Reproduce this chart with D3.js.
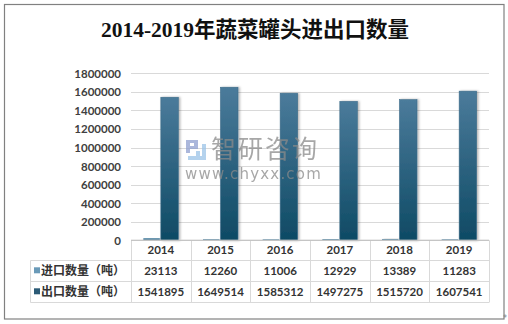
<!DOCTYPE html>
<html>
<head>
<meta charset="utf-8">
<script src="https://cdn.jsdelivr.net/npm/d3@7"></script>
<style>
  html, body { margin: 0; padding: 0; background: #fff; }
  svg { display: block; }
</style>
</head>
<body>
<svg id="chart" width="508" height="324"></svg>
<script>
// Canned vegetables: imports and exports by year (tonnes)
const years = ["2014", "2015", "2016", "2017", "2018", "2019"];
const importQty = [23113, 12260, 11006, 12929, 13389, 11283];
const exportQty = [1541895, 1649514, 1585312, 1497275, 1515720, 1607541];
const seriesNames = ["进口数量（吨）", "出口数量（吨）"];
const yTicks = [0, 200000, 400000, 600000, 800000, 1000000, 1200000, 1400000, 1600000, 1800000];
const titleText = "2014-2019年蔬菜罐头进出口数量";

const svg = d3.select("#chart");
const plot = { left: 131, right: 489, top: 73.3, bottom: 240.3 };
const numFont = "Lato, 'Noto Sans', sans-serif";

// Outer frame
svg.append("rect")
  .attr("x", 4.5).attr("y", 4.5).attr("width", 499.5).attr("height", 314.5)
  .attr("fill", "#fff").attr("stroke", "#808080").attr("stroke-width", 1.2);

// Title
svg.append("text")
  .attr("x", 255).attr("y", 37)
  .attr("text-anchor", "middle")
  .attr("font-family", "'Liberation Serif', 'Noto Sans CJK SC', serif")
  .attr("font-size", 21.5).attr("font-weight", "bold")
  .attr("fill", "#111")
  .text(titleText);

// Scales
const x = d3.scaleBand().domain(years).range([plot.left, plot.right]).paddingInner(0).paddingOuter(0);
const y = d3.scaleLinear().domain([0, 1800000]).range([plot.bottom, plot.top]);
const barW = 17.5;

// Gridlines
svg.append("g")
  .selectAll("line").data(yTicks.filter(d => d > 0)).join("line")
  .attr("x1", plot.left).attr("x2", plot.right)
  .attr("y1", d => Math.round(y(d)) + 0.5).attr("y2", d => Math.round(y(d)) + 0.5)
  .attr("stroke", "#d9d9d9").attr("stroke-width", 1);

// Y axis labels
const yAxis = d3.axisLeft(y).tickValues(yTicks).tickSize(0).tickPadding(0).tickFormat(d3.format("d"));
const gy = svg.append("g").attr("transform", `translate(121,0)`).call(yAxis);
gy.select(".domain").remove();
gy.selectAll("text")
  .attr("font-family", numFont).attr("font-size", 11.5).attr("font-weight", "bold")
  .attr("fill", "#404040").attr("dy", "0.35em");

// Gradients for bars
const defs = svg.append("defs");
const gExp = defs.append("linearGradient").attr("id", "gExp").attr("x1", 0).attr("y1", 0).attr("x2", 0).attr("y2", 1);
gExp.append("stop").attr("offset", "0%").attr("stop-color", "#4b7b9b");
gExp.append("stop").attr("offset", "100%").attr("stop-color", "#0e4a64");
const gImp = defs.append("linearGradient").attr("id", "gImp").attr("x1", 0).attr("y1", 0).attr("x2", 0).attr("y2", 1);
gImp.append("stop").attr("offset", "0%").attr("stop-color", "#5d90ae");
gImp.append("stop").attr("offset", "100%").attr("stop-color", "#3c7190");
const shadow = defs.append("filter").attr("id", "shadow").attr("x", "-30%").attr("y", "-5%").attr("width", "160%").attr("height", "110%");
shadow.append("feDropShadow").attr("dx", 1.5).attr("dy", 0).attr("stdDeviation", 1).attr("flood-color", "#000").attr("flood-opacity", 0.3);

const center = d => x(d) + x.bandwidth() / 2;

// Import bars
svg.append("g").selectAll("rect").data(years).join("rect")
  .attr("x", d => center(d) - barW)
  .attr("y", (d, i) => y(importQty[i]))
  .attr("width", barW - 1)
  .attr("height", (d, i) => plot.bottom - y(importQty[i]))
  .attr("fill", "url(#gImp)")
  .attr("filter", "url(#shadow)");

// Export bars
svg.append("g").selectAll("rect").data(years).join("rect")
  .attr("x", d => center(d))
  .attr("y", (d, i) => y(exportQty[i]))
  .attr("width", barW)
  .attr("height", (d, i) => plot.bottom - y(exportQty[i]))
  .attr("fill", "url(#gExp)")
  .attr("stroke", "#3d6c8a").attr("stroke-width", 0.6)
  .attr("filter", "url(#shadow)");

// Watermark
const wm = svg.append("g").attr("opacity", 0.75);
const logo = wm.append("g").attr("transform", "translate(186,140)");
logo.append("path").attr("d", "M0,0 H12 V9 H4 V13 H0 Z M4,3 V6 H8 V3 Z").attr("fill", "#8fa0cf");
logo.append("path").attr("d", "M10,11 H14 V20 H10 Z M16,4 H20 V20 H2 V16 H16 Z").attr("fill", "#9cc4e8");
wm.append("text")
  .attr("x", 211).attr("y", 158)
  .attr("font-family", "'Noto Sans CJK SC', sans-serif").attr("font-size", 25)
  .attr("fill", "#8a8a8a").attr("letter-spacing", 2)
  .text("智研咨询");
wm.append("text")
  .attr("x", 185).attr("y", 179)
  .attr("font-family", "'DejaVu Sans', sans-serif").attr("font-size", 15)
  .attr("fill", "#8a8a8a").attr("letter-spacing", 1.2)
  .text("www.chyxx.com");

// Data table under the axis
const rowY = [240.3, 260.3, 281.3, 302.3];
const tableLeft = 30.5;
const grid = svg.append("g").attr("stroke", "#d9d9d9").attr("stroke-width", 1).attr("fill", "none");
grid.append("line").attr("x1", plot.left).attr("x2", plot.right).attr("y1", rowY[0]).attr("y2", rowY[0]);
[1, 2, 3].forEach(k => {
  grid.append("line").attr("x1", tableLeft).attr("x2", plot.right)
    .attr("y1", Math.round(rowY[k]) + 0.5).attr("y2", Math.round(rowY[k]) + 0.5);
});
years.forEach(d => {
  grid.append("line").attr("x1", Math.round(x(d)) + 0.5).attr("x2", Math.round(x(d)) + 0.5)
    .attr("y1", rowY[0]).attr("y2", Math.round(rowY[3]) + 0.5);
});
grid.append("line").attr("x1", plot.right + 0.5).attr("x2", plot.right + 0.5).attr("y1", rowY[0]).attr("y2", Math.round(rowY[3]) + 0.5);
grid.append("line").attr("x1", tableLeft).attr("x2", tableLeft).attr("y1", Math.round(rowY[1]) + 0.5).attr("y2", Math.round(rowY[3]) + 0.5);

// Axis baseline
svg.append("line").attr("x1", plot.left).attr("x2", plot.right)
  .attr("y1", plot.bottom).attr("y2", plot.bottom).attr("stroke", "#bfbfbf");

const cellText = svg.append("g")
  .attr("font-family", numFont).attr("font-size", 11.5).attr("font-weight", "bold")
  .attr("fill", "#333").attr("text-anchor", "middle");
const rows = [years, importQty, exportQty];
rows.forEach((vals, r) => {
  cellText.append("g").selectAll("text").data(years).join("text")
    .attr("x", d => center(d))
    .attr("y", (rowY[r] + rowY[r + 1]) / 2)
    .attr("dy", "0.36em")
    .text((d, i) => vals[i]);
});

// Row headers with legend keys
const keyColors = ["#6a9ab8", "#2b5a76"];
seriesNames.forEach((name, k) => {
  const cy = (rowY[k + 1] + rowY[k + 2]) / 2;
  svg.append("rect").attr("x", 34).attr("y", cy - 3.5).attr("width", 6).attr("height", 6)
    .attr("fill", keyColors[k]);
  svg.append("text").attr("x", 41).attr("y", cy).attr("dy", "0.36em")
    .attr("font-family", "'Noto Sans CJK SC', sans-serif").attr("font-size", 12).attr("font-weight", "bold")
    .attr("fill", "#333")
    .text(name);
});

// Resize handle mark
svg.append("text").attr("x", 503).attr("y", 321).attr("font-size", 8).attr("fill", "#808080")
  .attr("font-family", "'DejaVu Sans', sans-serif").text("*");
</script>
</body>
</html>
